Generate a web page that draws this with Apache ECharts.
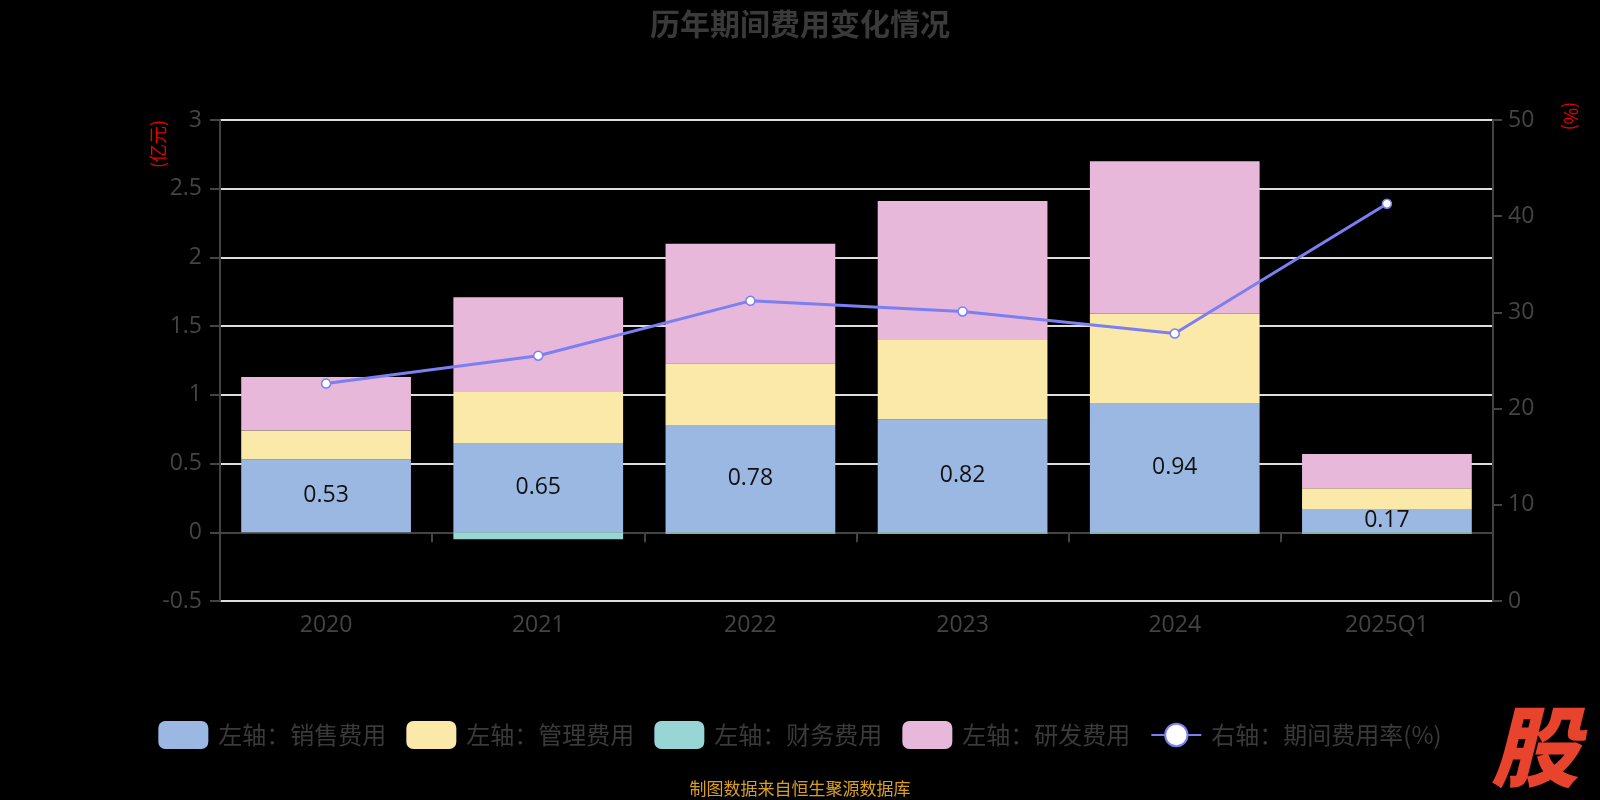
<!DOCTYPE html>
<html>
<head>
<meta charset="utf-8">
<script src="https://cdn.jsdelivr.net/npm/echarts@6/dist/echarts.min.js"></script>
<style>html,body{margin:0;padding:0;background:#000;}#c{width:1600px;height:800px;}</style>
</head>
<body>
<div id="c"></div>
<script>
const categories = ['2020', '2021', '2022', '2023', '2024', '2025Q1'];
const salesExpense = [0.53, 0.65, 0.78, 0.82, 0.94, 0.17];
const adminExpense = [0.21, 0.37, 0.45, 0.58, 0.65, 0.15];
const financeExpense = [0.00, -0.05, -0.01, -0.01, -0.01, -0.01];
const rdExpense = [0.39, 0.69, 0.87, 1.01, 1.11, 0.25];
const expenseRate = [22.6, 25.5, 31.2, 30.1, 27.8, 41.3];
const seriesNames = ['左轴：销售费用', '左轴：管理费用', '左轴：财务费用', '左轴：研发费用', '右轴：期间费用率(%)'];

const chart = echarts.init(document.getElementById('c'));
const font = '"Open Sans", "Noto Sans CJK SC", sans-serif';
const cjk = '"Noto Sans CJK SC", "Noto Sans", sans-serif';
const barCommon = {
  type: 'bar', stack: 'total', barWidth: '80%', yAxisIndex: 0
};
chart.setOption({
  backgroundColor: '#000',
  textStyle: { fontFamily: font },
  title: {
    text: '历年期间费用变化情况', left: 'center', top: 4,
    textStyle: { color: '#3a3a3a', fontSize: 30, fontWeight: 'bold', fontFamily: cjk }
  },
  legend: {
    bottom: 46, left: 'center', itemWidth: 50, itemHeight: 28, itemGap: 20,
    textStyle: { color: '#3a3a3a', fontSize: 24, fontFamily: cjk, padding: [0, 0, 0, 5] },
    data: seriesNames
  },
  grid: { left: 220, right: 107, top: 120, bottom: 199 },
  xAxis: {
    type: 'category', data: categories,
    axisLine: { onZero: true, lineStyle: { color: '#444', width: 2 } },
    axisTick: { show: true, length: 10, lineStyle: { color: '#444', width: 2 } },
    axisLabel: { color: '#444', fontSize: 23, margin: 13, fontFamily: font }
  },
  yAxis: [{
    type: 'value', min: -0.5, max: 3, interval: 0.5,
    axisLine: { show: true, lineStyle: { color: '#444', width: 2 } },
    axisTick: { show: true, length: 10, lineStyle: { color: '#444', width: 2 } },
    axisLabel: { color: '#444', fontSize: 23, margin: 18, fontFamily: font },
    splitLine: { show: true, lineStyle: { color: '#ddd', width: 2 } }
  }, {
    type: 'value', min: 0, max: 50, interval: 10,
    axisLine: { show: true, lineStyle: { color: '#444', width: 2 } },
    axisTick: { show: true, length: 9, lineStyle: { color: '#444', width: 2 } },
    axisLabel: { color: '#444', fontSize: 23, margin: 15, fontFamily: font },
    splitLine: { show: false }
  }],
  graphic: [
    { type: 'text', x: 158, y: 144, rotation: Math.PI / 2,
      style: { text: '(亿元)', fill: '#e00', font: '18px ' + cjk, align: 'center', verticalAlign: 'middle' } },
    { type: 'text', x: 1571, y: 116, rotation: -Math.PI / 2,
      style: { text: '(%)', fill: '#e00', font: '18px ' + cjk, align: 'center', verticalAlign: 'middle' } },
    { type: 'text', x: 800, y: 789,
      style: { text: '制图数据来自恒生聚源数据库', fill: '#d9a020', font: '17px ' + cjk, align: 'center', verticalAlign: 'middle' } },
    { type: 'text', x: 1535, y: 747,
      style: { text: '股', fill: '#e8432d', font: 'italic 900 88px ' + cjk, align: 'center', verticalAlign: 'middle' } }
  ],
  series: [
    Object.assign({}, barCommon, {
      name: seriesNames[0], data: salesExpense,
      itemStyle: { color: '#9bb8e3' },
      label: { show: true, position: 'inside', color: '#111', fontSize: 23, fontFamily: font }
    }),
    Object.assign({}, barCommon, { name: seriesNames[1], data: adminExpense, itemStyle: { color: '#fae9a9' } }),
    Object.assign({}, barCommon, { name: seriesNames[2], data: financeExpense, itemStyle: { color: '#98d5d5' } }),
    Object.assign({}, barCommon, { name: seriesNames[3], data: rdExpense, itemStyle: { color: '#e8b8da' } }),
    {
      name: seriesNames[4], type: 'line', yAxisIndex: 1, data: expenseRate,
      symbol: 'circle', symbolSize: 9,
      lineStyle: { color: '#7b7ff2', width: 3 },
      itemStyle: { color: '#fff', borderColor: '#7b7ff2', borderWidth: 1.5 }
    }
  ]
});
</script>
</body>
</html>
